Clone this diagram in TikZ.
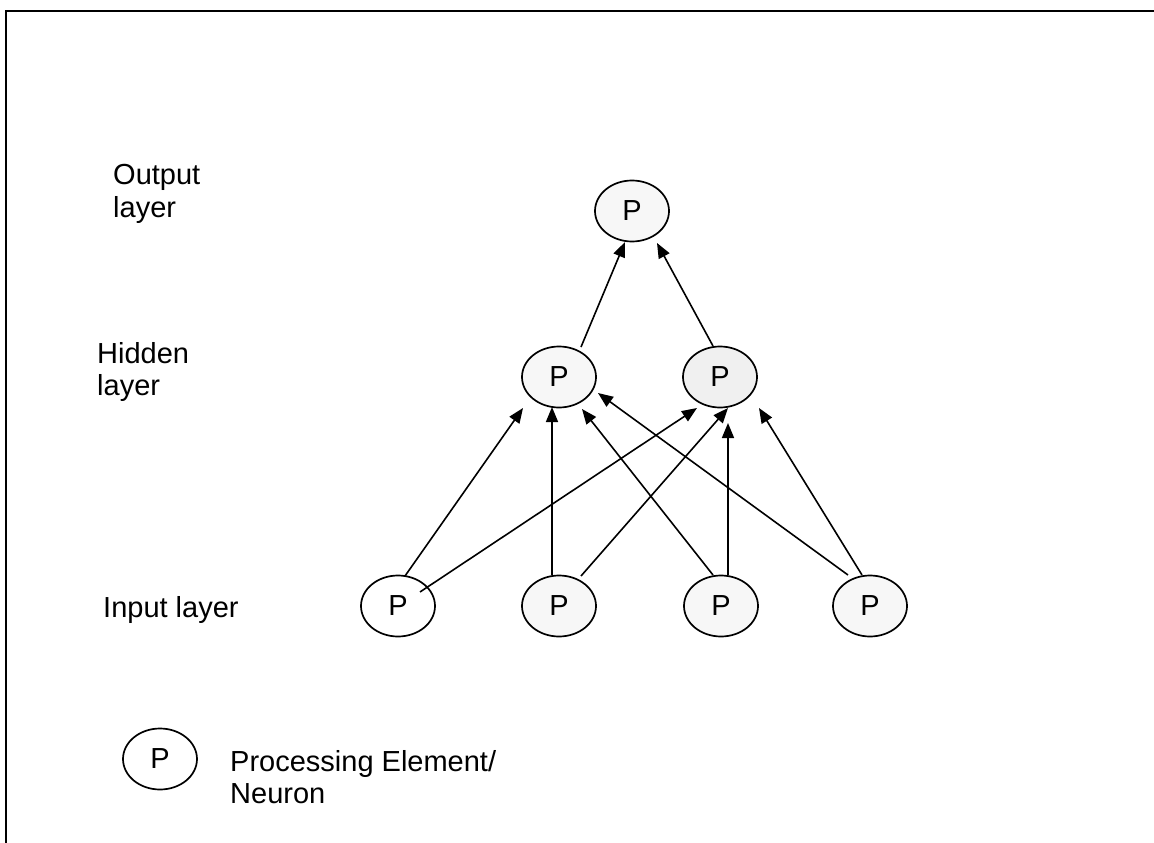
\documentclass[tikz,border=0pt]{standalone}
\usepackage{fontspec}
\setmainfont{Liberation Sans}
\usetikzlibrary{arrows.meta,calc,shapes.geometric}

\tikzset{
  neuron/.style={ellipse, draw=black, line width=1.7pt, fill=black!3,
    minimum width=74pt, minimum height=61pt, inner sep=0pt,
    font=\fontsize{29}{33}\selectfont},
  label/.style={anchor=base west, inner sep=0pt,
    font=\fontsize{29}{33}\selectfont},
  link/.style={line width=1.6pt, -{Triangle[length=15pt,width=12pt]}},
  frameline/.style={line width=2pt}
}

\begin{document}
\begin{tikzpicture}[x=1pt,y=-1pt]
  \useasboundingbox (0,0) rectangle (1154,843);

  % open frame: top and left edges only
  \coordinate (fr-tr) at (1154,11);
  \coordinate (fr-tl) at (6,11);
  \coordinate (fr-bl) at (6,843);
  \draw[frameline] (fr-tr) -- (fr-tl) -- (fr-bl);

  % layer labels
  \node[label] (lab-out1) at (113,184) {Output};
  \node[label] (lab-out2) at (113,217) {layer};
  \node[label] (lab-hid1) at (97,363) {Hidden};
  \node[label] (lab-hid2) at (97,395) {layer};
  \node[label] (lab-in)   at (103,617) {Input layer};

  % neurons
  \node[neuron] (out) at (632,211) {P};
  \node[neuron] (h1)  at (559,377) {P};
  \node[neuron, fill=black!6] (h2)  at (720,377) {P};
  \node[neuron, fill=white] (in1) at (398,606) {P};
  \node[neuron] (in2) at (559,606) {P};
  \node[neuron] (in3) at (721,606) {P};
  \node[neuron] (in4) at (870,606) {P};

  % hidden -> output
  \draw[link] ($(h1)+(22,-30)$) -- ($(out)+(-7,31)$);
  \draw[link] ($(h2)+(-7,-31)$) -- ($(out)+(25,32)$);

  % input -> hidden
  \draw[link] ($(in1)+(7,-30)$)   -- ($(h1)+(-36,31)$);
  \draw[link] ($(in1)+(22,-14)$)  -- ($(h2)+(-23,31)$);
  \draw[link] ($(in2)+(-7,-31)$)  -- ($(h1)+(-7,30)$);
  \draw[link] ($(in2)+(22,-30)$)  -- ($(h2)+(8,31)$);
  \draw[link] ($(in3)+(-8,-31)$)  -- ($(h1)+(23,32)$);
  \draw[link] ($(in3)+(7,-31)$)   -- ($(h2)+(8,46)$);
  \draw[link] ($(in4)+(-22,-31)$) -- ($(h1)+(39,16)$);
  \draw[link] ($(in4)+(-8,-31)$)  -- ($(h2)+(39,31)$);

  % legend
  \node[neuron, fill=white] (key) at (160,759) {P};
  \node[label] (key-t1) at (230,771) {Processing Element/};
  \node[label] (key-t2) at (230,803) {Neuron};
\end{tikzpicture}
\end{document}
